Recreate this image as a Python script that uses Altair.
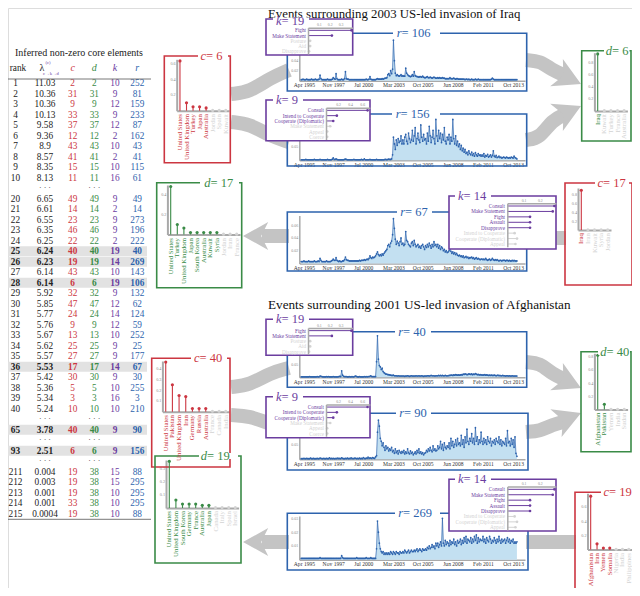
import altair as alt
import pandas as pd

FONT = "Liberation Serif"
RED = "#cc3641"
GREEN = "#3a8b47"
PURPLE = "#6b3d9f"
BLUE = "#2d63ad"
LIGHTBLUE = "#c3e0f1"
INACTIVE = "#d3d3d3"
AXGRAY = "#a9a9a9"
TICKGRAY = "#8c8c8c"
ARROW = "#c4c4c4"
HILITE = "#e2e2e2"
W, H, M = 624, 580, 8

# ============================ DATA ============================
table_rank = [1, 2, 3, 4, 5, 6, 7, 8, 9, 10,
              20, 21, 22, 23, 24, 25, 26, 27, 28, 29, 30, 31, 32, 33, 34, 35, 36, 37, 38, 39, 40,
              65, 93, 211, 212, 213, 214, 215]
table_lambda = ["11.03", "10.36", "10.36", "10.13", "9.58", "9.36", "8.9", "8.57", "8.35", "8.13",
                "6.65", "6.61", "6.55", "6.35", "6.25", "6.24", "6.23", "6.14", "6.14", "5.92",
                "5.85", "5.77", "5.76", "5.67", "5.62", "5.57", "5.53", "5.42", "5.36", "5.34", "5.24",
                "3.78", "2.51", "0.004", "0.003", "0.001", "0.001", "0.0004"]
table_c = [2, 31, 9, 33, 37, 12, 43, 41, 15, 11,
           49, 14, 23, 46, 22, 40, 19, 43, 6, 32, 47, 24, 9, 13, 25, 27, 17, 30, 5, 3, 10,
           40, 6, 19, 19, 19, 33, 19]
table_d = [2, 31, 9, 33, 37, 12, 43, 41, 15, 11,
           49, 14, 23, 46, 22, 40, 19, 43, 6, 32, 47, 24, 9, 13, 25, 27, 17, 30, 5, 3, 10,
           40, 6, 38, 38, 38, 38, 38]
table_k = [10, 9, 12, 9, 12, 2, 10, 2, 10, 16,
           9, 2, 9, 9, 2, 19, 14, 10, 19, 9, 12, 14, 12, 10, 9, 9, 14, 9, 10, 16, 10,
           9, 9, 15, 15, 10, 10, 10]
table_r = [252, 81, 159, 233, 87, 162, 43, 41, 115, 61,
           49, 14, 273, 196, 222, 40, 269, 143, 106, 132, 62, 124, 59, 252, 25, 177, 67, 30, 255, 3, 210,
           90, 156, 88, 295, 295, 295, 88]
highlight_ranks = [25, 26, 28, 36, 65, 93]

# country factors (stem panels)
c6_countries = ["United States", "United Kingdom", "Turkey", "Japan", "Australia", "Jordan", "Spain", "Kuwait"]
c6_values = [0.63, 0.10, 0.05, 0.05, 0.035, 0.004, 0.004, 0.004]
d17_countries = ["United States", "Turkey", "United Kingdom", "Japan", "South Korea", "Australia",
                 "Kuwait", "Syria", "Jordan", "Iran", "France"]
d17_values = [0.48, 0.10, 0.065, 0.02, 0.02, 0.02, 0.02, 0.02, 0.003, 0.003, 0.003]
d6_countries = ["Iraq", "Kuwait", "Turkey", "France", "Australia"]
d6_values = [0.95, 0.005, 0.005, 0.005, 0.005]
c17_countries = ["Iraq", "Iran", "Kuwait", "Syria", "Jordan"]
c17_values = [0.9, 0.005, 0.005, 0.005, 0.005]
c40_countries = ["United States", "Pakistan", "United Kingdom", "Iran", "Germany", "Russia",
                 "Australia", "France", "Canada", "India"]
c40_values = [0.46, 0.25, 0.15, 0.14, 0.03, 0.03, 0.03, 0.004, 0.004, 0.004]
d40_countries = ["Afghanistan", "Pakistan", "Yemen", "India", "Sudan"]
d40_values = [0.82, 0.08, 0.004, 0.004, 0.004]
c19_countries = ["Afghanistan", "Iran", "Yemen", "Somalia", "Nigeria", "India", "Philippines"]
c19_values = [0.75, 0.08, 0.02, 0.02, 0.004, 0.004, 0.004]
d19_countries = ["United States", "United Kingdom", "South Korea", "Germany", "France", "Australia",
                 "Japan", "Canada", "Italy", "Spain", "Israel"]
d19_values = [0.35, 0.06, 0.03, 0.03, 0.03, 0.02, 0.02, 0.003, 0.003, 0.003, 0.003]

# action factors (inset panels)
k19_actions = ["Fight", "Make Statement", "Posture", "Aid", "Disapprove"]
k19_values = [0.40, 0.22, 0.02, 0.02, 0.01]
k9_actions = ["Consult", "Intend to Cooperate", "Cooperate (Diplomatic)", "Make Statement", "Appeal", "Coerce"]
k9_values = [0.69, 0.18, 0.12, 0.07, 0.02, 0.02]
k14_actions = ["Consult", "Make Statement", "Fight", "Assault", "Disapprove",
               "Intend to Cooperate", "Cooperate (Diplomatic)", "Appeal"]
k14_values = [0.29, 0.28, 0.14, 0.14, 0.14, 0.045, 0.06, 0.05]

# monthly time factors, Jan 1995 - Feb 2014, in units of 1e-3 (one row per year)
r106 = [
    [2, 2, 3, 2, 2, 2, 3, 2, 2, 2, 2, 3], [2, 2, 2, 3, 2, 2, 2, 3, 11, 4, 2, 2],
    [2, 2, 2, 2, 3, 2, 2, 2, 2, 3, 6, 4], [3, 14, 4, 2, 2, 2, 2, 3, 2, 2, 4, 18],
    [4, 3, 3, 2, 2, 2, 2, 2, 2, 2, 2, 2], [2, 2, 2, 2, 2, 2, 2, 2, 2, 3, 2, 2],
    [3, 8, 3, 2, 2, 2, 2, 2, 3, 4, 3, 3], [3, 3, 4, 3, 4, 5, 5, 6, 12, 14, 10, 20],
    [14, 23, 81, 40, 15, 10, 12, 10, 9, 10, 12, 9], [10, 9, 9, 25, 15, 12, 10, 9, 8, 9, 12, 9],
    [18, 10, 9, 8, 8, 7, 8, 8, 7, 9, 7, 6], [6, 7, 8, 6, 6, 7, 6, 5, 6, 7, 6, 5],
    [5, 6, 5, 6, 5, 5, 6, 5, 5, 4, 4, 4], [4, 4, 6, 4, 4, 4, 5, 4, 3, 4, 4, 3],
    [3, 3, 3, 3, 3, 3, 2, 3, 3, 2, 3, 2], [2, 3, 2, 2, 2, 3, 2, 2, 3, 2, 2, 2],
    [2, 2, 2, 2, 2, 2, 2, 2, 2, 2, 3, 5], [3, 2, 2, 2, 2, 2, 2, 2, 2, 2, 2, 2],
    [2, 2, 2, 2, 2, 2, 2, 2, 2, 2, 2, 2], [2, 2],
]
r156 = [
    [2, 2, 2, 2, 2, 3, 2, 2, 2, 2, 2, 2], [2, 2, 3, 2, 2, 2, 2, 2, 3, 2, 2, 2],
    [2, 2, 2, 2, 3, 2, 2, 2, 2, 4, 9, 3], [3, 5, 3, 2, 2, 2, 2, 2, 2, 2, 3, 4],
    [3, 2, 2, 2, 2, 2, 2, 2, 3, 2, 2, 2], [2, 2, 2, 2, 3, 2, 2, 5, 2, 2, 2, 2],
    [2, 3, 2, 2, 2, 2, 2, 2, 3, 2, 2, 2], [2, 2, 2, 2, 2, 3, 3, 2, 3, 4, 3, 3],
    [5, 20, 85, 60, 40, 75, 55, 80, 65, 70, 90, 60], [75, 60, 85, 95, 70, 60, 100, 80, 65, 75, 110, 70],
    [90, 120, 60, 80, 100, 75, 65, 130, 85, 70, 95, 75], [80, 60, 100, 70, 125, 90, 65, 85, 110, 80, 60, 150],
    [90, 70, 110, 80, 100, 65, 95, 75, 120, 70, 60, 85], [75, 95, 60, 85, 70, 150, 80, 60, 90, 55, 70, 50],
    [60, 40, 55, 35, 45, 30, 40, 25, 30, 20, 35, 25], [20, 30, 18, 25, 15, 28, 20, 15, 25, 18, 20, 15],
    [20, 15, 25, 12, 18, 15, 22, 12, 15, 20, 12, 18], [35, 15, 12, 18, 10, 12, 15, 10, 12, 8, 10, 12],
    [10, 8, 12, 10, 8, 10, 8, 12, 10, 8, 15, 10], [8, 5],
]
r67 = [
    [3, 3, 3, 4, 3, 3, 3, 3, 4, 3, 3, 3], [3, 3, 4, 3, 3, 3, 4, 3, 8, 5, 3, 3],
    [3, 3, 3, 4, 3, 3, 3, 3, 4, 5, 7, 5], [5, 9, 5, 4, 3, 4, 3, 3, 4, 4, 6, 10],
    [6, 5, 5, 4, 4, 4, 4, 4, 4, 4, 4, 4], [4, 4, 5, 4, 5, 5, 5, 6, 5, 6, 7, 6],
    [8, 12, 9, 8, 10, 9, 10, 12, 15, 18, 14, 12], [14, 12, 15, 13, 16, 18, 20, 22, 28, 30, 26, 32],
    [35, 45, 70, 55, 38, 30, 35, 32, 28, 34, 40, 30], [32, 28, 30, 50, 36, 34, 30, 28, 26, 32, 34, 28],
    [36, 30, 26, 28, 30, 25, 27, 24, 28, 30, 26, 22], [28, 25, 30, 26, 32, 28, 24, 30, 26, 34, 28, 30],
    [26, 30, 24, 28, 22, 26, 24, 20, 22, 18, 20, 17], [18, 20, 24, 19, 16, 18, 15, 17, 14, 16, 13, 12],
    [13, 11, 12, 10, 12, 9, 10, 11, 9, 10, 8, 9], [9, 10, 8, 9, 7, 8, 9, 7, 8, 7, 6, 7],
    [7, 6, 7, 6, 8, 6, 5, 6, 7, 5, 6, 8], [6, 5, 6, 5, 6, 5, 4, 5, 5, 4, 5, 5],
    [5, 4, 5, 5, 4, 5, 4, 4, 5, 4, 5, 4], [4, 4],
]
r40 = [
    [2, 2, 2, 2, 2, 2, 2, 2, 2, 3, 2, 2], [2, 2, 2, 2, 2, 3, 2, 2, 5, 4, 3, 2],
    [2, 2, 2, 3, 2, 3, 2, 2, 2, 2, 3, 2], [2, 2, 2, 2, 3, 4, 3, 25, 8, 4, 3, 3],
    [3, 2, 2, 3, 2, 2, 3, 2, 2, 4, 5, 3], [2, 2, 3, 2, 2, 2, 2, 3, 2, 3, 2, 3],
    [3, 4, 6, 3, 3, 3, 3, 3, 60, 160, 70, 45], [40, 30, 35, 22, 18, 15, 12, 12, 10, 10, 9, 8],
    [7, 7, 8, 6, 6, 6, 5, 6, 5, 5, 5, 5], [5, 5, 4, 5, 5, 6, 5, 4, 5, 6, 5, 5],
    [5, 5, 6, 5, 5, 6, 5, 5, 6, 5, 4, 5], [5, 5, 6, 6, 5, 6, 7, 6, 6, 6, 5, 6],
    [6, 6, 7, 6, 7, 6, 7, 6, 6, 7, 6, 6], [6, 7, 7, 8, 8, 7, 9, 8, 10, 9, 8, 9],
    [8, 9, 10, 9, 12, 11, 13, 12, 10, 11, 13, 12], [11, 13, 10, 12, 11, 14, 12, 10, 11, 9, 10, 9],
    [9, 8, 9, 10, 8, 9, 8, 7, 8, 7, 8, 7], [7, 8, 7, 6, 7, 8, 6, 7, 6, 6, 7, 6],
    [6, 5, 6, 6, 5, 6, 5, 5, 6, 5, 5, 5], [5, 5],
]
r90 = [
    [2, 2, 2, 3, 2, 2, 3, 2, 2, 2, 4, 2], [2, 3, 2, 2, 2, 3, 2, 2, 4, 3, 2, 2],
    [3, 2, 2, 3, 2, 2, 5, 2, 3, 2, 3, 2], [2, 3, 2, 4, 2, 3, 2, 5, 3, 2, 2, 3],
    [2, 4, 2, 3, 2, 5, 2, 3, 2, 4, 3, 2], [3, 2, 4, 2, 3, 2, 6, 3, 2, 4, 3, 7],
    [3, 5, 4, 3, 6, 4, 3, 8, 12, 90, 130, 110], [70, 60, 45, 55, 40, 30, 45, 35, 40, 28, 35, 30],
    [40, 25, 30, 20, 35, 22, 28, 18, 30, 24, 20, 26], [22, 30, 18, 25, 20, 35, 22, 18, 28, 20, 24, 15],
    [20, 25, 18, 30, 22, 35, 20, 25, 18, 22, 15, 20], [22, 30, 25, 35, 28, 40, 30, 25, 45, 30, 35, 28],
    [30, 45, 35, 40, 60, 35, 50, 30, 55, 40, 35, 45], [40, 55, 35, 70, 45, 60, 40, 50, 65, 45, 70, 50],
    [55, 45, 80, 50, 65, 40, 75, 55, 100, 60, 50, 70], [60, 85, 55, 70, 50, 105, 60, 75, 50, 65, 55, 90],
    [60, 50, 70, 55, 65, 50, 75, 60, 55, 70, 45, 60], [55, 65, 50, 70, 60, 55, 75, 50, 65, 45, 60, 55],
    [50, 70, 45, 95, 55, 60, 45, 70, 50, 65, 40, 75], [20, 10],
]
r269 = [
    [1, 1, 1, 1, 1, 1, 1, 1, 1, 1, 1, 1], [1, 1, 1, 1, 1, 1, 1, 1, 1.5, 1, 1, 1],
    [1, 1, 1, 1, 1, 1, 1, 1, 1, 1, 1, 1], [1, 1, 1, 1, 1, 1, 1, 3, 1.5, 1, 1, 1],
    [1, 1, 1, 1, 1, 1, 1, 1, 1, 1, 1, 1.5], [1, 1, 1, 1, 1, 1, 1, 1, 1, 1.5, 1, 1],
    [1, 1, 1.5, 1, 1, 1, 1, 1, 8, 28, 20, 12], [8, 6, 5, 6, 4, 5, 4, 5, 4, 5, 4, 6],
    [5, 4, 6, 5, 4, 6, 5, 5, 4, 6, 5, 5], [6, 5, 7, 6, 5, 6, 7, 5, 6, 7, 6, 6],
    [7, 6, 7, 8, 6, 7, 8, 7, 6, 8, 7, 7], [8, 7, 9, 8, 10, 8, 9, 11, 9, 10, 8, 12],
    [10, 12, 9, 11, 13, 10, 30, 12, 10, 14, 11, 13], [12, 10, 14, 11, 13, 12, 15, 11, 13, 10, 14, 12],
    [13, 15, 11, 14, 12, 16, 13, 17, 12, 15, 14, 13], [16, 12, 15, 13, 17, 14, 18, 12, 16, 13, 15, 14],
    [14, 17, 13, 15, 12, 16, 14, 13, 17, 15, 12, 14], [13, 16, 14, 12, 15, 13, 17, 14, 12, 15, 13, 14],
    [15, 12, 14, 16, 13, 15, 12, 14, 13, 15, 12, 13], [12, 13],
]
ts_tick_months = [(1995, 4), (1997, 11), (2000, 7), (2003, 3), (2005, 10), (2008, 6), (2011, 2), (2013, 10)]

# ============================ LAYOUT (reference pixel coords) ============================
STEM_L = {
    "c6": dict(ax=176.7, xend=229.0, y0=110.7, ytop=59.3, ymax=0.65, ticks=[0.2, 0.4, 0.6], laby=114),
    "d17": dict(ax=167.4, xend=240.0, y0=234.5, ytop=185.0, ymax=0.495, ticks=[0.2, 0.4], laby=238),
    "d6": dict(ax=594.4, xend=627.4, y0=111.0, ytop=52.7, ymax=0.97, ticks=[0.2, 0.4, 0.6, 0.8], laby=114),
    "c17": dict(ax=578.0, xend=611.0, y0=230.0, ytop=188.0, ymax=0.95, ticks=[0.2, 0.4, 0.6, 0.8], laby=233),
    "c40": dict(ax=162.4, xend=229.1, y0=411.7, ytop=361.0, ymax=0.47, ticks=[0.1, 0.2, 0.3, 0.4], laby=415),
    "d40": dict(ax=594.4, xend=627.6, y0=409.5, ytop=353.3, ymax=0.85, ticks=[0.2, 0.4, 0.6, 0.8], laby=412.5),
    "c19": dict(ax=587.5, xend=632.0, y0=549.5, ytop=493.3, ymax=0.79, ticks=[0.2, 0.4, 0.6], laby=553),
    "d19": dict(ax=166.0, xend=238.6, y0=508.0, ytop=460.0, ymax=0.36, ticks=[0.1, 0.2, 0.3], laby=511),
}
TS_X0, TS_X1 = 299.3, 525.0
TS_L = {
    "r106": dict(y0=80.7, ytop=35.7, ymax=0.09, ticks=[0.02, 0.04]),
    "r156": dict(y0=160.3, ytop=117.0, ymax=0.159, ticks=[0.05]),
    "r67": dict(y0=263.5, ytop=215.5, ymax=0.075, ticks=[0.02, 0.04, 0.06]),
    "r40": dict(y0=377.3, ytop=335.0, ymax=0.163, ticks=[0.05]),
    "r90": dict(y0=459.3, ytop=416.0, ymax=0.144, ticks=[0.05]),
    "r269": dict(y0=559.8, ytop=516.0, ymax=0.0317, ticks=[0.01, 0.02, 0.03]),
}
INSET_L = {
    "k19a": dict(ax=308.0, xend=352.5, xmax=0.41, ticks=[0.1, 0.2, 0.3], ytop=27.7, ybot=54.0, labx=306),
    "k9a": dict(ax=326.0, xend=370.0, xmax=0.73, ticks=[0.2, 0.4, 0.6], ytop=107.7, ybot=139.5, labx=324),
    "k14a": dict(ax=507.3, xend=556.0, xmax=0.30, ticks=[0.1, 0.2], ytop=203.3, ybot=246.7, labx=505),
    "k19b": dict(ax=308.0, xend=352.5, xmax=0.41, ticks=[0.1, 0.2, 0.3], ytop=328.0, ybot=354.3, labx=306),
    "k9b": dict(ax=326.0, xend=370.0, xmax=0.73, ticks=[0.2, 0.4, 0.6], ytop=404.4, ybot=436.2, labx=324),
    "k14b": dict(ax=507.3, xend=556.0, xmax=0.30, ticks=[0.1, 0.2], ytop=486.6, ybot=530.0, labx=505),
}
MAIN_FRAMES = [
    ("c6", 164.3, 56, 230.3, 162.7, RED), ("d17", 156.7, 182.7, 241.7, 287.7, GREEN),
    ("d6", 581.7, 50.7, 631, 141, GREEN), ("c17", 565, 183, 632, 285, RED),
    ("c40", 151.7, 358.3, 230, 467, RED), ("d40", 581, 351.7, 631, 451.7, GREEN),
    ("c19", 575, 492.3, 639, 600, RED), ("d19", 155, 456, 241, 563, GREEN),
    ("r106", 287.3, 33.3, 526.7, 91, BLUE), ("r156", 287.3, 114, 526.7, 166, BLUE),
    ("r67", 287.3, 212, 526.7, 271, BLUE), ("r40", 287.3, 331.7, 526.7, 387.3, BLUE),
    ("r90", 287.3, 413.3, 528, 470, BLUE), ("r269", 287.3, 513.3, 528, 570, BLUE),
]
INSET_FRAMES = [
    ("k19a", 266, 19, 352.7, 55, PURPLE), ("k9a", 266, 100, 370, 140.7, PURPLE),
    ("k14a", 449, 196, 556, 249, PURPLE), ("k19b", 266, 319.3, 352.7, 355.3, PURPLE),
    ("k9b", 266, 396.7, 370, 437.7, PURPLE), ("k14b", 449, 479.3, 556, 531, PURPLE),
]
NB = "\u00a0"
MAIN_LABELS = [
    ("c", "6", 206, 56, RED, 198, 228), ("d", "17", 210.5, 182.7, GREEN, 200, 239),
    ("d", "6", 612, 50.7, GREEN, 604, 629.5), ("c", "17", 603, 183, RED, 595, 629),
    ("c", "40", 199.5, 358.3, RED, 191, 227), ("d", "40", 606.5, 351.7, GREEN, 598, 630),
    ("c", "19", 609, 492.3, RED, 601, 634), ("d", "19", 207, 456, GREEN, 199, 238),
    ("r", "106", 401.5, 33.3, BLUE, 393, 440), ("r", "156", 400.5, 114, BLUE, 392, 440),
    ("r", "67", 405, 212, BLUE, 397, 432), ("r", "40", 403, 331.7, BLUE, 395, 431),
    ("r", "90", 404, 413.3, BLUE, 396, 431), ("r", "269", 403, 513.3, BLUE, 395, 440),
]
INSET_LABELS = [
    ("k", "19", 281.5, 20.5, PURPLE, 273, 309), ("k", "9", 281.5, 100, PURPLE, 273, 303),
    ("k", "14", 463.5, 196, PURPLE, 455, 491), ("k", "19", 281.5, 319.3, PURPLE, 273, 309),
    ("k", "9", 281.5, 396.7, PURPLE, 273, 303), ("k", "14", 463.5, 479.3, PURPLE, 455, 491),
]
ARROW_BANDS = [
    ("a1", [(231, 94), (250, 92), (270, 78), (289, 70)]),
    ("a2", [(231, 122), (250, 124), (270, 136), (289, 142)]),
    ("a3", [(526, 60), (540, 61), (552, 70), (566, 76)]),
    ("a4", [(526, 140), (540, 138), (552, 120), (566, 114)]),
    ("a5", [(289, 236), (262, 236)]),
    ("a6", [(566, 238), (526, 238)]),
    ("b1", [(231, 387), (250, 385), (270, 373), (289, 368)]),
    ("b2", [(231, 415), (250, 416), (270, 424), (289, 428)]),
    ("b3", [(526, 362), (540, 363), (552, 374), (566, 380)]),
    ("b4", [(526, 432), (540, 431), (552, 425), (566, 421)]),
    ("b5", [(289, 542), (262, 542)]),
    ("b6", [(576, 542), (526, 542)]),
]
ARROW_HEADS = [(581, 84, 25, 900), (581, 106, 335, 900), (243, 236, 180, 784),
               (581, 388, 25, 900), (581, 413, 338, 900), (243, 542, 180, 784)]
HEAD = "M0,0 L-1.8,-1 L-1.3,0 L-1.8,1 Z"
TBL_X = {"rank": 15.5, "lam": 45, "c": 72.7, "d": 94.3, "k": 115, "r": 137.3}


# ============================ helpers ============================
def cxs():
    return alt.Scale(domain=[M, M + W], range=[0, W], nice=False, zero=False)


def cys():
    return alt.Scale(domain=[M, M + H], range=[0, H], nice=False, zero=False)


def flag(n, k):
    return [i < k for i in range(n)]


def stem_panel(countries, values, n_active, color, L):
    df = pd.DataFrame({"country": countries, "value": values, "zero": 0.0,
                       "active": flag(len(countries), n_active)})
    xenc = alt.X("country:N", sort=countries,
                 scale=alt.Scale(type="point", domain=countries,
                                 range=[L["ax"] - M, L["xend"] - M], padding=0.5),
                 axis=alt.Axis(orient="bottom", offset=L["y0"] - M - H, labels=False, ticks=False,
                               domainColor=AXGRAY, domainWidth=2, grid=False, title=None))
    yenc = alt.Y("value:Q",
                 scale=alt.Scale(domain=[0, L["ymax"]], range=[L["y0"] - M, L["ytop"] - M], nice=False),
                 axis=alt.Axis(orient="left", offset=-(L["ax"] - M), values=L["ticks"], format="~g",
                               labelFont=FONT, labelFontSize=4.2, labelColor=TICKGRAY, ticks=False,
                               labelPadding=1.5, domainColor=AXGRAY, domainWidth=2, grid=False, title=None))
    col = alt.condition("datum.active", alt.value(color), alt.value(INACTIVE))
    base = alt.Chart(df)
    stems = base.mark_rule(strokeWidth=1.1).encode(x=xenc, y=yenc, y2="zero:Q", color=col)
    dots = base.mark_circle(size=10, opacity=1).encode(x=xenc, y=yenc, color=col)
    names = base.mark_text(angle=270, align="right", baseline="middle", font=FONT, fontSize=6.8).encode(
        x=xenc, y=alt.value(L["laby"] - M), text="country:N", color=col)
    return alt.layer(stems, dots, names)


def ts_panel(rows, L):
    vals = [v / 1000 for row in rows for v in row]
    dates = pd.date_range("1995-01-01", periods=len(vals), freq="MS").strftime("%Y-%m-%d")
    df = pd.DataFrame({"date": list(dates), "value": vals})
    ticks = [alt.DateTime(year=y, month=m, date=1) for y, m in ts_tick_months]
    xenc = alt.X("date:T",
                 scale=alt.Scale(domain=[alt.DateTime(year=1994, month=11, date=1),
                                         alt.DateTime(year=2014, month=10, date=20)],
                                 range=[TS_X0 - M, TS_X1 - M], nice=False),
                 axis=alt.Axis(orient="bottom", offset=L["y0"] - M - H, values=ticks, format="%b %Y",
                               labelFont=FONT, labelFontSize=5.6, labelColor="#333333", ticks=False,
                               labelPadding=2, domainColor=AXGRAY, domainWidth=1.5, grid=False,
                               title=None, labelOverlap=False, labelFlush=False))
    yenc = alt.Y("value:Q",
                 scale=alt.Scale(domain=[0, L["ymax"]], range=[L["y0"] - M, L["ytop"] - M], nice=False),
                 axis=alt.Axis(orient="left", offset=-(TS_X0 - M), values=L["ticks"], format="~g",
                               labelFont=FONT, labelFontSize=4, labelColor=TICKGRAY, ticks=False,
                               labelPadding=1.5, domainColor=AXGRAY, domainWidth=1.5, grid=False, title=None))
    base = alt.Chart(df)
    area = base.mark_area(color=LIGHTBLUE, opacity=1).encode(x=xenc, y=yenc)
    line = base.mark_line(color=BLUE, strokeWidth=0.7).encode(x=xenc, y=yenc)
    pts = base.mark_circle(color=BLUE, size=3, opacity=1).encode(x=xenc, y=yenc)
    return alt.layer(area, line, pts)


def inset_panel(actions, values, n_active, L):
    df = pd.DataFrame({"action": actions, "value": values, "zero": 0.0,
                       "active": flag(len(actions), n_active)})
    xenc = alt.X("value:Q",
                 scale=alt.Scale(domain=[0, L["xmax"]], range=[L["ax"] - M, L["xend"] - M], nice=False),
                 axis=alt.Axis(orient="top", offset=-(L["ytop"] - M), values=L["ticks"], format="~g",
                               labelFont=FONT, labelFontSize=3.8, labelColor=TICKGRAY, ticks=False,
                               labelPadding=1, domainColor=AXGRAY, domainWidth=1.5, grid=False,
                               title=None, zindex=1))
    yenc = alt.Y("action:N", sort=actions,
                 scale=alt.Scale(type="point", domain=actions, range=[L["ytop"] - M, L["ybot"] - M], padding=0.5),
                 axis=alt.Axis(orient="left", offset=-(L["ax"] - M), labels=False, ticks=False,
                               domainColor=AXGRAY, domainWidth=1.5, grid=False, title=None, zindex=1))
    col = alt.condition("datum.active", alt.value(PURPLE), alt.value(INACTIVE))
    base = alt.Chart(df)
    rules = base.mark_rule(strokeWidth=1).encode(x=xenc, x2="zero:Q", y=yenc, color=col)
    dots = base.mark_circle(size=7, opacity=1).encode(x=xenc, y=yenc, color=col)
    names = base.mark_text(align="right", baseline="middle", font=FONT, fontSize=5.2).encode(
        x=alt.value(L["labx"] - M), y=yenc, text="action:N", color=col)
    return alt.layer(rules, dots, names)


def frames_layer(items, filled):
    df = pd.DataFrame(items, columns=["id", "x0", "y0", "x1", "y1", "col"])
    return alt.Chart(df).mark_rect(strokeWidth=1.6, fill="white", fillOpacity=1 if filled else 0).encode(
        x=alt.X("x0:Q", scale=cxs(), axis=None), x2="x1:Q",
        y=alt.Y("y0:Q", scale=cys(), axis=None), y2="y1:Q",
        stroke=alt.Stroke("col:N", scale=None))


def labels_layer(items):
    df = pd.DataFrame(items, columns=["letter", "num", "xs", "y", "col", "g0", "g1"])
    df["rest"] = NB + "=" + NB + df["num"]
    base = alt.Chart(df)
    gap = base.mark_rect(fill="white", strokeWidth=0).encode(
        x=alt.X("g0:Q", scale=cxs(), axis=None), x2="g1:Q",
        y=alt.Y("ylo:Q", scale=cys(), axis=None), y2="yhi:Q").transform_calculate(
        ylo="datum.y - 3", yhi="datum.y + 3")
    letter = base.mark_text(align="right", baseline="middle", font=FONT, fontSize=12.5,
                            fontStyle="italic").encode(
        x=alt.X("xs:Q", scale=cxs(), axis=None), y=alt.Y("y:Q", scale=cys(), axis=None),
        text="letter:N", color=alt.Color("col:N", scale=None))
    rest = base.mark_text(align="left", baseline="middle", font=FONT, fontSize=12.5).encode(
        x=alt.X("xs:Q", scale=cxs(), axis=None), y=alt.Y("y:Q", scale=cys(), axis=None),
        text="rest:N", color=alt.Color("col:N", scale=None))
    return alt.layer(gap, letter, rest)


def canvas_text(items, baseline="middle", **mk):
    df = pd.DataFrame(items, columns=["t", "x", "y", "col", "s"])
    return alt.Chart(df).mark_text(font=FONT, baseline=baseline, **mk).encode(
        x=alt.X("x:Q", scale=cxs(), axis=None), y=alt.Y("y:Q", scale=cys(), axis=None),
        text="t:N", color=alt.Color("col:N", scale=None), size=alt.Size("s:Q", scale=None))


# ============================ TABLE ============================
slots, sep_slots = [], []
s = 0
for i, rk in enumerate(table_rank):
    if i > 0 and rk != table_rank[i - 1] + 1:
        sep_slots.append(s)
        s += 1
    slots.append(s)
    s += 1
tdf = pd.DataFrame({"slot": slots, "rank": table_rank, "lam": table_lambda, "c": table_c,
                    "d": table_d, "k": table_k, "r": table_r})
tdf["bold"] = tdf["rank"].isin(highlight_ranks)
slot_scale = alt.Scale(domain=[0, s - 1], range=[83.3 - M, 513.8 - M], nice=False, zero=False)

layers = []
layers.append(alt.Chart(tdf[tdf["bold"]]).mark_rect(color=HILITE).encode(
    x=alt.value(3 - M), x2=alt.value(147 - M),
    y=alt.Y("ya:Q", scale=slot_scale, axis=None), y2="yb:Q").transform_calculate(
    ya="datum.slot - 0.47", yb="datum.slot + 0.47"))
col_colors = {"rank": "#222222", "lam": "#222222", "c": RED, "d": GREEN, "k": PURPLE, "r": BLUE}
for col, xpos in TBL_X.items():
    for bold in (False, True):
        layers.append(alt.Chart(tdf[tdf["bold"] == bold]).mark_text(
            font=FONT, fontSize=9.3, color=col_colors[col], baseline="middle",
            fontWeight="bold" if bold else "normal").encode(
            x=alt.value(xpos - M), y=alt.Y("slot:Q", scale=slot_scale, axis=None), text=f"{col}:N"))
sep_df = pd.DataFrame({"slot": sep_slots, "t": ["\u00b7 \u00b7 \u00b7"] * len(sep_slots)})
for xpos in (TBL_X["lam"], TBL_X["d"]):
    layers.append(alt.Chart(sep_df).mark_text(font=FONT, fontSize=8, color="#333333").encode(
        x=alt.value(xpos - M), y=alt.Y("slot:Q", scale=slot_scale, axis=None), text="t:N"))

rules_df = pd.DataFrame({"x0": [8, 8], "x1": [151, 151], "y": [79, 519.3]})
layers.append(alt.Chart(rules_df).mark_rule(color="#555555", strokeWidth=0.8).encode(
    x=alt.X("x0:Q", scale=cxs(), axis=None), x2="x1:Q", y=alt.Y("y:Q", scale=cys(), axis=None)))

layers.append(canvas_text([
    ("Inferred non-zero core elements", 79, 53.3, "#222222", 10),
    ("rank", 18, 68.3, "#222222", 9.3),
    ("\u03bb", 42, 68.3, "#222222", 10),
], align="center"))
layers.append(canvas_text([
    ("(c)", 45.5, 63.2, PURPLE, 4.6),
    ("c\u2192k\u2192d", 43, 73.6, PURPLE, 4.6),
], align="left"))
layers.append(canvas_text([
    ("c", TBL_X["c"], 68.3, RED, 10), ("d", TBL_X["d"], 68.3, GREEN, 10),
    ("k", TBL_X["k"], 68.3, PURPLE, 10), ("r", TBL_X["r"], 68.3, BLUE, 10),
], align="center", fontStyle="italic"))
layers.append(canvas_text([
    ("Events surrounding 2003 US-led invasion of Iraq", 268, 17.5, "#111111", 12.8),
], baseline="alphabetic", align="left"))
layers.append(canvas_text([
    ("Events surrounding 2001 US-led invasion of Afghanistan", 268, 305, "#111111", 13.2),
], align="left"))

# ============================ ARROWS ============================
band_rows = [{"id": aid, "i": i, "x": x, "y": y} for aid, pts in ARROW_BANDS for i, (x, y) in enumerate(pts)]
layers.append(alt.Chart(pd.DataFrame(band_rows)).mark_line(
    color=ARROW, strokeWidth=14, interpolate="basis", strokeCap="butt").encode(
    x=alt.X("x:Q", scale=cxs(), axis=None), y=alt.Y("y:Q", scale=cys(), axis=None),
    detail="id:N", order="i:Q"))
layers.append(alt.Chart(pd.DataFrame(ARROW_HEADS, columns=["x", "y", "a", "s"])).mark_point(
    shape=HEAD, filled=True, color=ARROW, opacity=1, strokeWidth=0).encode(
    x=alt.X("x:Q", scale=cxs(), axis=None), y=alt.Y("y:Q", scale=cys(), axis=None),
    angle=alt.Angle("a:Q", scale=None), size=alt.Size("s:Q", scale=None)))

# ============================ MAIN PANELS ============================
layers.append(frames_layer(MAIN_FRAMES, filled=False))
layers.append(stem_panel(c6_countries, c6_values, 5, RED, STEM_L["c6"]))
layers.append(stem_panel(d17_countries, d17_values, 8, GREEN, STEM_L["d17"]))
layers.append(stem_panel(d6_countries, d6_values, 1, GREEN, STEM_L["d6"]))
layers.append(stem_panel(c17_countries, c17_values, 1, RED, STEM_L["c17"]))
layers.append(stem_panel(c40_countries, c40_values, 7, RED, STEM_L["c40"]))
layers.append(stem_panel(d40_countries, d40_values, 2, GREEN, STEM_L["d40"]))
layers.append(stem_panel(c19_countries, c19_values, 4, RED, STEM_L["c19"]))
layers.append(stem_panel(d19_countries, d19_values, 7, GREEN, STEM_L["d19"]))
layers.append(ts_panel(r106, TS_L["r106"]))
layers.append(ts_panel(r156, TS_L["r156"]))
layers.append(ts_panel(r67, TS_L["r67"]))
layers.append(ts_panel(r40, TS_L["r40"]))
layers.append(ts_panel(r90, TS_L["r90"]))
layers.append(ts_panel(r269, TS_L["r269"]))
layers.append(labels_layer(MAIN_LABELS))

# ============================ INSETS ============================
layers.append(frames_layer(INSET_FRAMES, filled=True))
layers.append(labels_layer(INSET_LABELS))
layers.append(inset_panel(k19_actions, k19_values, 2, INSET_L["k19a"]))
layers.append(inset_panel(k9_actions, k9_values, 3, INSET_L["k9a"]))
layers.append(inset_panel(k14_actions, k14_values, 5, INSET_L["k14a"]))
layers.append(inset_panel(k19_actions, k19_values, 2, INSET_L["k19b"]))
layers.append(inset_panel(k9_actions, k9_values, 3, INSET_L["k9b"]))
layers.append(inset_panel(k14_actions, k14_values, 5, INSET_L["k14b"]))

chart = alt.layer(*layers).resolve_scale(
    x="independent", y="independent"
).properties(
    width=W, height=H, padding=0, autosize=alt.AutoSizeParams(type="none")
).configure_view(stroke=None).configure(background="white")

chart.save("out.html", embed_options={"renderer": "svg", "actions": False})
